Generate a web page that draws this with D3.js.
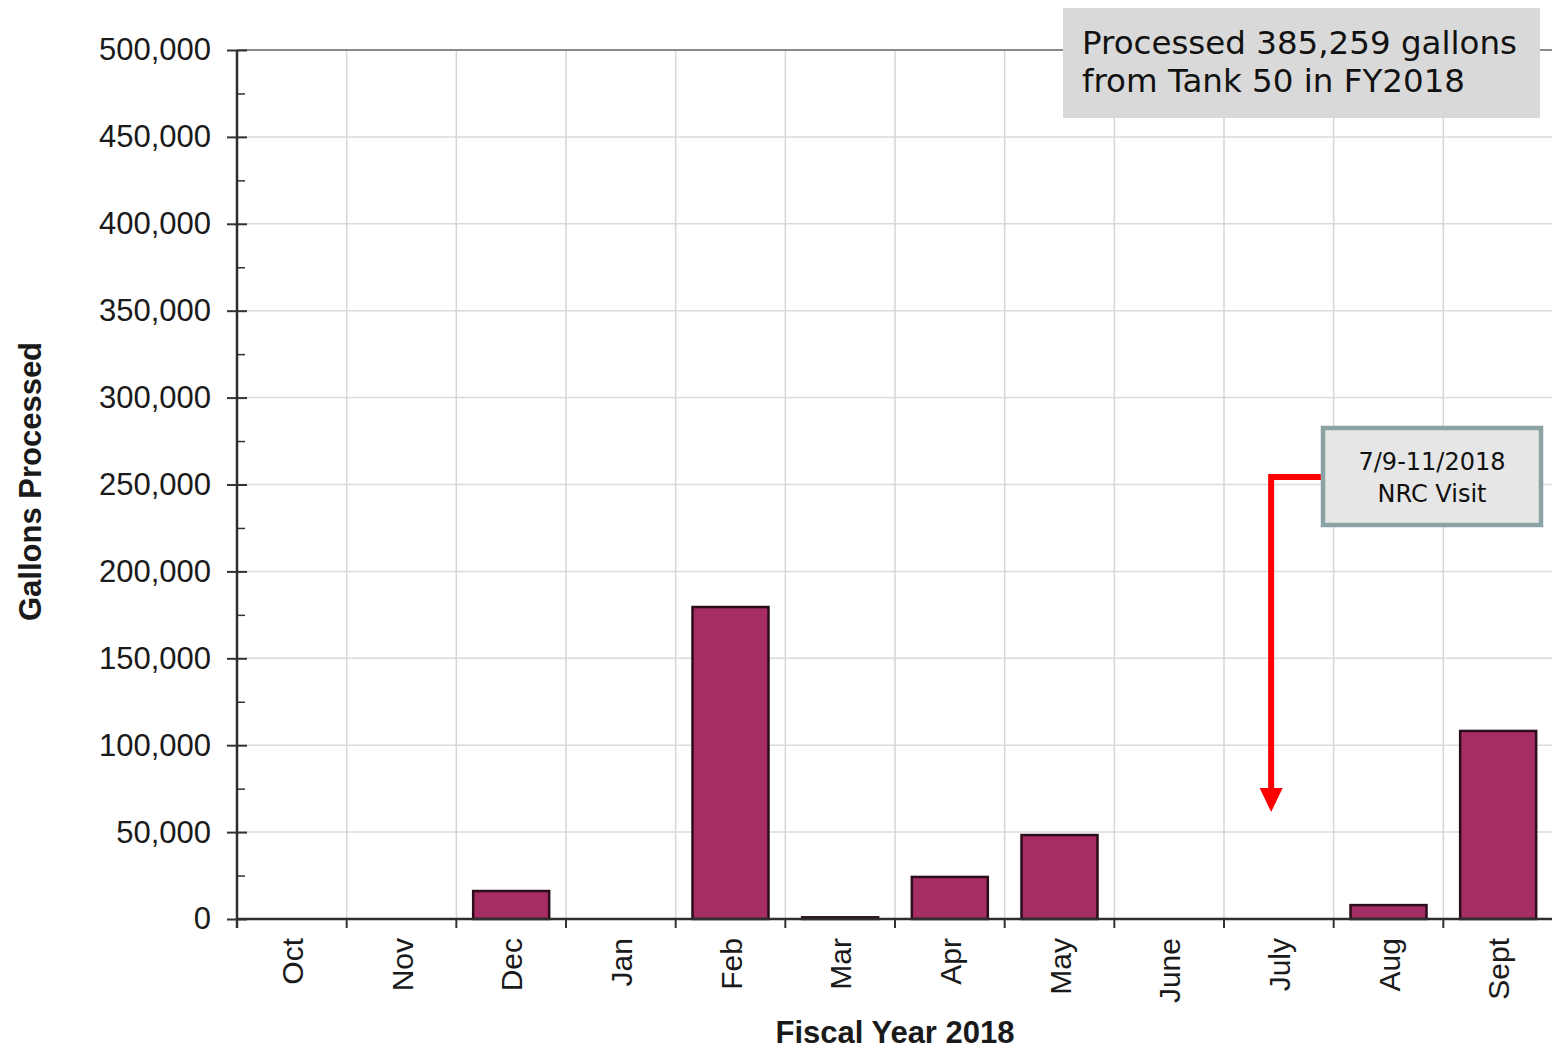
<!DOCTYPE html>
<html>
<head>
<meta charset="utf-8">
<script src="https://cdn.jsdelivr.net/npm/d3@7"></script>
<style>
  html, body { margin: 0; padding: 0; background: #ffffff; }
  svg { display: block; }
  .tick text { font-family: "Liberation Sans", Arial, sans-serif; }
</style>
</head>
<body>
<svg id="chart" width="1552" height="1050"></svg>
<script>
// Monthly gallons processed from Tank 50, fiscal year 2018
const months = ["Oct", "Nov", "Dec", "Jan", "Feb", "Mar", "Apr", "May", "June", "July", "Aug", "Sept"];
const gallons = [0, 0, 16100, 0, 179500, 959, 24200, 48300, 0, 0, 8000, 108200];
const yMajorTicks = [0, 50000, 100000, 150000, 200000, 250000, 300000, 350000, 400000, 450000, 500000];
const yMinorTicks = [25000, 75000, 125000, 175000, 225000, 275000, 325000, 375000, 425000, 475000];
const totalNote = ["Processed 385,259 gallons", "from Tank 50 in FY2018"];
const visitNote = ["7/9-11/2018", "NRC Visit"];
const visitMonth = "July";
const visitArrowValue = 61500;

const svg = d3.select("#chart");
const plot = { left: 237, right: 1553, top: 50, bottom: 919 };

const x = d3.scaleBand()
  .domain(months)
  .range([plot.left, plot.right])
  .paddingInner(0.307)
  .paddingOuter(0.1535);

const y = d3.scaleLinear()
  .domain([0, 500000])
  .range([plot.bottom, plot.top]);

const step = x.step();
const boundaries = d3.range(months.length + 1).map(i => plot.left + i * step);

// grid
const grid = svg.append("g");
grid.selectAll("line.h")
  .data(yMajorTicks.filter(v => v > 0 && v < 500000))
  .join("line")
  .attr("x1", plot.left).attr("x2", plot.right)
  .attr("y1", d => y(d)).attr("y2", d => y(d))
  .attr("stroke", "#dadada").attr("stroke-width", 1.5);
grid.selectAll("line.v")
  .data(boundaries.slice(1, -1))
  .join("line")
  .attr("x1", d => d).attr("x2", d => d)
  .attr("y1", plot.top).attr("y2", plot.bottom)
  .attr("stroke", "#d6d6d6").attr("stroke-width", 1.5);
// top border
svg.append("line")
  .attr("x1", plot.left).attr("x2", plot.right)
  .attr("y1", y(500000)).attr("y2", y(500000))
  .attr("stroke", "#8a8a8a").attr("stroke-width", 2);

// bars
svg.append("g")
  .selectAll("rect")
  .data(months.map((m, i) => ({ m, v: gallons[i] })).filter(d => d.v > 0))
  .join("rect")
  .attr("x", d => x(d.m))
  .attr("y", d => y(d.v))
  .attr("width", x.bandwidth())
  .attr("height", d => y(0) - y(d.v))
  .attr("fill", "#a62c64")
  .attr("stroke", "#2a0c1a")
  .attr("stroke-width", 2.5);

// y axis: labelled major ticks crossing the axis line, minor ticks inside
const yAxisG = svg.append("g").attr("transform", `translate(${plot.left},0)`);
yAxisG.call(d3.axisLeft(y).tickValues(yMajorTicks).tickSize(10).tickPadding(16).tickFormat(d3.format(",")));
yAxisG.select(".domain").remove();
yAxisG.selectAll(".tick line").attr("stroke", "#333").attr("stroke-width", 2);
yAxisG.selectAll(".tick text").attr("font-size", 31).attr("fill", "#1a1a1a");

const yInner = svg.append("g").attr("transform", `translate(${plot.left},0)`);
yInner.call(d3.axisRight(y).tickValues(yMajorTicks).tickSize(10).tickFormat(""));
yInner.select(".domain").remove();
yInner.selectAll(".tick line").attr("stroke", "#333").attr("stroke-width", 2);

const yMinor = svg.append("g").attr("transform", `translate(${plot.left},0)`);
yMinor.call(d3.axisRight(y).tickValues(yMinorTicks).tickSize(8).tickFormat(""));
yMinor.select(".domain").remove();
yMinor.selectAll(".tick line").attr("stroke", "#333").attr("stroke-width", 1.5);

svg.append("line")
  .attr("x1", plot.left).attr("x2", plot.left)
  .attr("y1", plot.top).attr("y2", plot.bottom + 9)
  .attr("stroke", "#2e2e2e").attr("stroke-width", 2.5);

// x axis baseline, boundary ticks and rotated month labels
svg.append("line")
  .attr("x1", plot.left).attr("x2", plot.right)
  .attr("y1", y(0)).attr("y2", y(0))
  .attr("stroke", "#2e2e2e").attr("stroke-width", 2.5);
svg.append("g").selectAll("line")
  .data(boundaries)
  .join("line")
  .attr("x1", d => d).attr("x2", d => d)
  .attr("y1", y(0)).attr("y2", y(0) + 9)
  .attr("stroke", "#333").attr("stroke-width", 2);

svg.append("g").selectAll("text")
  .data(months)
  .join("text")
  .attr("transform", d => `translate(${x(d) + x.bandwidth() / 2 + 11},${plot.bottom + 19}) rotate(-90)`)
  .attr("text-anchor", "end")
  .attr("font-family", "'Liberation Sans', Arial, sans-serif")
  .attr("font-size", 30)
  .attr("fill", "#1a1a1a")
  .text(d => d);

// axis titles
svg.append("text")
  .attr("x", (plot.left + plot.right) / 2)
  .attr("y", 1043)
  .attr("text-anchor", "middle")
  .attr("font-family", "'Liberation Sans', Arial, sans-serif")
  .attr("font-weight", "bold")
  .attr("font-size", 31)
  .attr("fill", "#1a1a1a")
  .text("Fiscal Year 2018");

svg.append("text")
  .attr("transform", `translate(41,${(plot.top + plot.bottom) / 2 - 3}) rotate(-90)`)
  .attr("text-anchor", "middle")
  .attr("font-family", "'Liberation Sans', Arial, sans-serif")
  .attr("font-weight", "bold")
  .attr("font-size", 31)
  .attr("fill", "#1a1a1a")
  .text("Gallons Processed");

// total callout, top right
const note = svg.append("g");
note.append("rect")
  .attr("x", 1063).attr("y", 8).attr("width", 477).attr("height", 110)
  .attr("fill", "#d9d9d9");
note.selectAll("text")
  .data(totalNote)
  .join("text")
  .attr("x", 1082)
  .attr("y", (d, i) => 54 + i * 38)
  .attr("font-family", "'DejaVu Sans', Verdana, sans-serif")
  .attr("font-size", 32.5)
  .attr("fill", "#111")
  .text(d => d);

// NRC visit marker: elbow arrow from the label box down into July
const arrowX = boundaries[months.indexOf(visitMonth)] + step * 0.43;
const boxX = 1323, boxY = 428, boxW = 218, boxH = 97;
const elbowY = 477;
svg.append("path")
  .attr("d", `M${boxX},${elbowY} H${arrowX} V${y(visitArrowValue) - 22}`)
  .attr("fill", "none")
  .attr("stroke", "#ff0000")
  .attr("stroke-width", 6);
svg.append("path")
  .attr("d", `M${arrowX - 11.5},${y(visitArrowValue) - 24} L${arrowX + 11.5},${y(visitArrowValue) - 24} L${arrowX},${y(visitArrowValue)} Z`)
  .attr("fill", "#ff0000");

const visit = svg.append("g");
visit.append("rect")
  .attr("x", boxX).attr("y", boxY).attr("width", boxW).attr("height", boxH)
  .attr("fill", "#e6e6e6")
  .attr("stroke", "#8ca3a5")
  .attr("stroke-width", 4.5);
visit.selectAll("text")
  .data(visitNote)
  .join("text")
  .attr("x", boxX + boxW / 2)
  .attr("y", (d, i) => 470 + i * 32)
  .attr("text-anchor", "middle")
  .attr("font-family", "'DejaVu Sans', Verdana, sans-serif")
  .attr("font-size", 24)
  .attr("fill", "#111")
  .text(d => d);
</script>
</body>
</html>
